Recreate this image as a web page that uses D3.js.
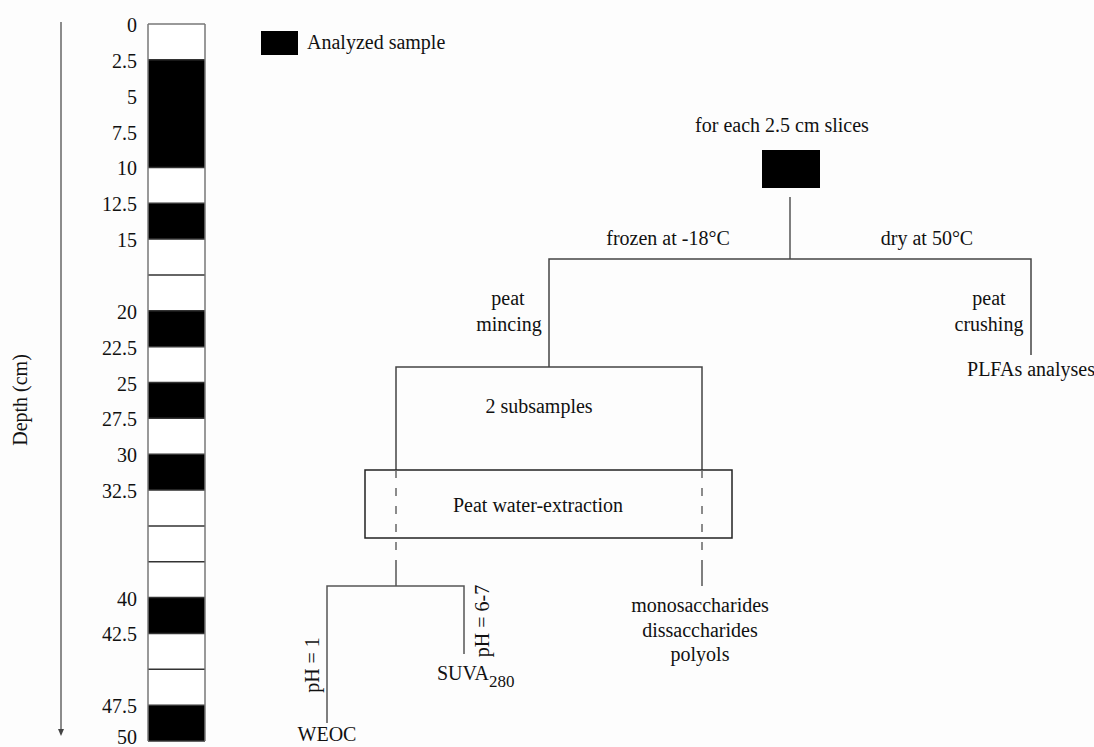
<!DOCTYPE html>
<html><head><meta charset="utf-8">
<script src="https://cdn.jsdelivr.net/npm/d3@7"></script>
<style>
html,body{margin:0;padding:0;background:#fdfdfd;}
text{font-family:"Liberation Serif","Times New Roman",serif;fill:#111;}
</style></head>
<body><svg id="c" width="1094" height="747"></svg>
<script>
// ---- data ----
const sliceStarts = [0,2.5,5,7.5,10,12.5,15,17.5,20,22.5,25,27.5,30,32.5,35,37.5,40,42.5,45,47.5];
const sliceAnalyzed = [0,1,1,1,0,1,0,0,1,0,1,0,1,0,0,0,1,0,0,1];
const tickLabels = [0,2.5,5,7.5,10,12.5,15,20,22.5,25,27.5,30,32.5,40,42.5,47.5,50];
const sliceSize = 2.5;

const svg = d3.select("#c");
const y = d3.scaleLinear().domain([0,50]).range([24,741]);
const colX0 = 148, colX1 = 205;

// depth arrow
svg.append("line").attr("x1",61).attr("x2",61).attr("y1",22).attr("y2",731)
  .attr("stroke","#666").attr("stroke-width",1.5);
svg.append("path").attr("d","M58,729 L64,729 L61,736 Z").attr("fill","#444");
svg.append("text").attr("transform","translate(20,400) rotate(-90)")
  .attr("text-anchor","middle").attr("dominant-baseline","central")
  .style("font-size","20px").text("Depth (cm)");

// slices (slightly overlapped to avoid anti-aliasing seams)
svg.selectAll("rect.slice").data(sliceStarts).join("rect").attr("class","slice")
  .attr("x",colX0).attr("width",colX1-colX0)
  .attr("y",d=>y(d)).attr("height",d=>y(d+sliceSize)-y(d)+ (d+sliceSize<50?1:0))
  .attr("fill",(d,i)=>sliceAnalyzed[i]?"#000":"#fff");
// boundaries (skip those inside a run of analyzed slices)
const bounds = sliceStarts.concat([50]);
const inner = bounds.filter((d,i)=> !(i>0 && i<sliceStarts.length && sliceAnalyzed[i-1] && sliceAnalyzed[i]));
svg.selectAll("line.b").data(inner).join("line").attr("class","b")
  .attr("x1",colX0).attr("x2",colX1).attr("y1",d=>y(d)).attr("y2",d=>y(d))
  .attr("stroke",d=> d===0 ? "#777" : "#333").attr("stroke-width",1.5);
svg.append("line").attr("x1",colX0).attr("x2",colX0).attr("y1",y(0)).attr("y2",y(50)).attr("stroke","#777").attr("stroke-width",1.5);
svg.append("line").attr("x1",colX1).attr("x2",colX1).attr("y1",y(0)).attr("y2",y(50)).attr("stroke","#777").attr("stroke-width",1.5);

svg.selectAll("text.tick").data(tickLabels).join("text").attr("class","tick")
  .attr("x",137).attr("y",d=> d===50 ? y(d)-4 : y(d)+1).attr("text-anchor","end").attr("dominant-baseline","central")
  .style("font-size","20px").text(d=>d);

// legend
svg.append("rect").attr("x",261).attr("y",31).attr("width",37).attr("height",24).attr("fill","#000");
svg.append("text").attr("x",307).attr("y",49).style("font-size","20px").text("Analyzed sample");

// flowchart
const g = svg.append("g");
function line(pts, color, w, dash){
  const p = g.append("path").attr("d", d3.line()(pts)).attr("fill","none")
    .attr("stroke",color||"#555").attr("stroke-width",w||1.5);
  if(dash) p.attr("stroke-dasharray",dash);
  return p;
}
function txt(x,yy,s,anchor,size){
  return g.append("text").attr("x",x).attr("y",yy).attr("text-anchor",anchor||"middle")
    .style("font-size",(size||20)+"px").text(s);
}
txt(782,132,"for each 2.5 cm slices");
g.append("rect").attr("x",762).attr("y",150).attr("width",58).attr("height",38).attr("fill","#000");
line([[790,197],[790,259]]);
line([[549,367],[549,259],[1031,259],[1031,355]], "#444");
txt(668,245,"frozen at -18°C");
txt(927,245,"dry at 50°C");
txt(508,305,"peat"); txt(509,331,"mincing");
txt(989,305,"peat"); txt(989,331,"crushing");
txt(1031,376,"PLFAs analyses");

line([[396,470],[396,367],[702,367],[702,470]], "#444");
txt(539,413,"2 subsamples");
g.append("rect").attr("x",365).attr("y",470).attr("width",367).attr("height",68)
  .attr("fill","none").attr("stroke","#222").attr("stroke-width",1.5);
txt(538,512,"Peat water-extraction");
line([[396,470],[396,560]], "#666", 1.5, "8,10");
line([[702,470],[702,560]], "#666", 1.5, "8,10");
line([[396,560],[396,586]], "#555");
line([[702,560],[702,586]], "#555");

line([[327,723],[327,586],[464,586],[464,654]], "#555");
g.append("text").attr("transform","translate(312,665) rotate(-90)").attr("text-anchor","middle")
  .attr("dominant-baseline","central").style("font-size","20px").text("pH = 1");
g.append("text").attr("transform","translate(482,621) rotate(-90)").attr("text-anchor","middle")
  .attr("dominant-baseline","central").style("font-size","20px").text("pH = 6-7");
const su = g.append("text").attr("x",437).attr("y",680).style("font-size","20px");
su.append("tspan").text("SUVA");
su.append("tspan").attr("dy",7).style("font-size","17px").text("280");
txt(327,741,"WEOC");
txt(700,612,"monosaccharides");
txt(700,637,"dissaccharides");
txt(700,661,"polyols");
</script></body></html>
